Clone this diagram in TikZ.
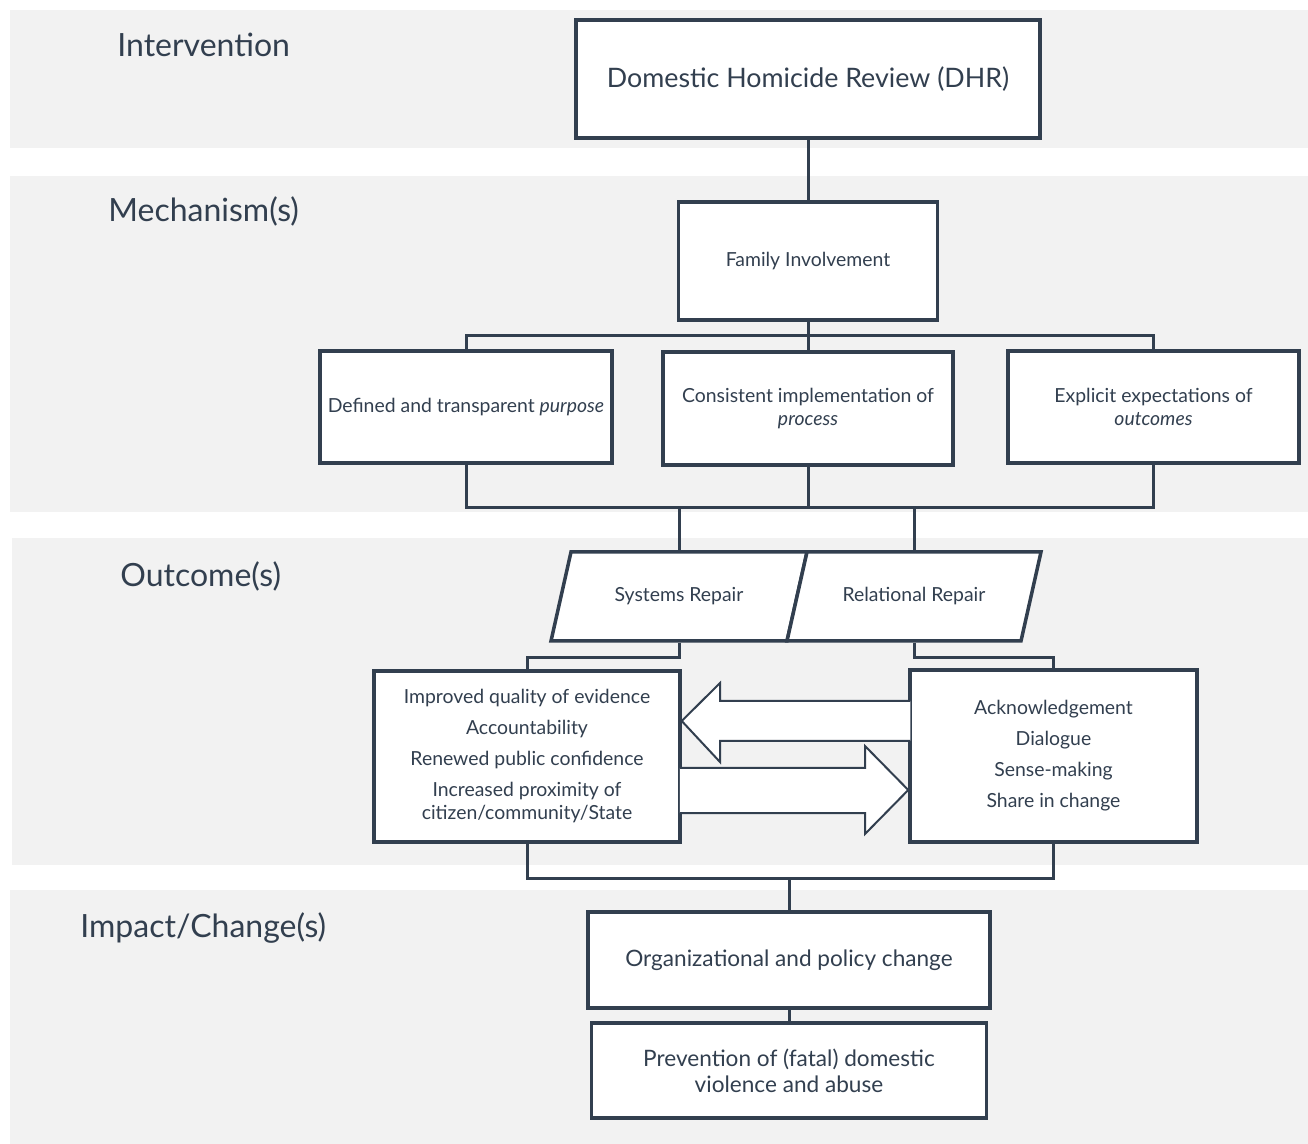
\documentclass[tikz,border=0pt]{standalone}
\usepackage{fontspec}
\setmainfont{Lato}
\definecolor{slate}{HTML}{323F4F}
\definecolor{bandgray}{HTML}{F2F2F2}

\begin{document}
\begin{tikzpicture}[x=0.5pt,y=-0.5pt,
box/.style={draw=slate,line width=1.75pt,fill=white,text=slate,align=center,inner sep=2pt},
small/.style={font=\fontsize{9.7}{11.5}\selectfont},
big/.style={font=\fontsize{11.3}{13}\selectfont},
repair/.style={small,text=slate,minimum width=118pt,minimum height=44.5pt},
link/.style={draw=slate,line width=1.5pt},
blockarrow/.style={draw=slate,line width=1pt,fill=white},
stage/.style={anchor=west,inner sep=0pt,text=slate,font=\fontsize{16}{19}\selectfont}]
\useasboundingbox (0,0) rectangle (1308,1144);
\tikzstyle{band}=[fill=bandgray]
\fill[band] (10,10) rectangle (1308,148);
\fill[band] (10,176) rectangle (1308,512);
\fill[band] (12,538) rectangle (1308,865);
\fill[band] (10,890) rectangle (1308,1144);

\node[stage] (intervention) at (117,45) {Intervention};
\node[stage] (mechanism) at (108,211) {Mechanism(s)};
\node[stage] (outcome) at (120,576) {Outcome(s)};
\node[stage] (impact) at (80,928) {Impact/Change(s)};

\node[box,minimum width=232pt,minimum height=59pt,font=\fontsize{13.4}{16}\selectfont] (dhr) at (808,79) {Domestic Homicide Review (DHR)};
\node[box,small,minimum width=129.5pt,minimum height=59pt] (family) at (808,261) {Family Involvement};
\node[box,small,minimum width=146pt,minimum height=56pt] (purpose) at (466,407) {Defined and transparent \emph{purpose}};
\node[box,small,minimum width=145pt,minimum height=56.5pt] (process) at (808,408.5) {Consistent implementation of\\\emph{process}};
\node[box,small,minimum width=145.5pt,minimum height=56pt] (outcomes) at (1153.5,407) {Explicit expectations of\\\emph{outcomes}};

\draw[box] (571,552) -- (807,552) -- (787,641) -- (551,641) -- cycle
  (679,596.5) node[repair] (sysrep) {Systems Repair};
\draw[box] (807,552) -- (1041,552) -- (1021,641) -- (787,641) -- cycle
  (914,596.5) node[repair] (relrep) {Relational Repair};

\node[box,small,minimum width=153pt,minimum height=85.5pt] (sysout) at (527,756.5) {Improved quality of evidence\\[4pt]Accountability\\[4pt]Renewed public confidence\\[4pt]Increased proximity of\\citizen/community/State};
\node[box,small,minimum width=143.5pt,minimum height=86pt] (relout) at (1053.5,756) {Acknowledgement\\[4pt]Dialogue\\[4pt]Sense-making\\[4pt]Share in change};

\node[box,big,minimum width=201pt,minimum height=48pt] (org) at (789,960) {Organizational and policy change};
\node[box,big,minimum width=197.5pt,minimum height=47.5pt] (prev) at (789,1070.5) {Prevention of (fatal) domestic\\violence and abuse};

\coordinate (mbus) at (808,336);
\coordinate (lbus) at (808,508);
\coordinate (obus) at (789,878);

\draw[link] (dhr.south) -- (family.north);
\draw[link] (family.south) -- (process.north);
\draw[link] (purpose.north) |- (mbus) -| (outcomes.north);
\draw[link] (purpose.south) |- (lbus) -| (outcomes.south);
\draw[link] (process.south) -- (lbus);
\draw[link] (sysrep.north |- lbus) -- (sysrep.north);
\draw[link] (relrep.north |- lbus) -- (relrep.north);
\draw[link] (sysrep.south) -- ++(0,15) -| (sysout.north);
\draw[link] (relrep.south) -- ++(0,15) -| (relout.north);
\draw[link] (sysout.south) |- (obus) -| (relout.south);
\draw[link] (obus) -- (org.north);
\draw[link] (org.south) -- (prev.north);

\coordinate (ltail) at ([xshift=1pt]relout.west);
\coordinate (rtail) at ([xshift=-1pt]sysout.east);
\draw[blockarrow] (ltail |- 0,701) -- (720,701) -- (720,683) -- (sysout.east |- 0,721)
  -- (720,762) -- (720,741) -- (ltail |- 0,741);
\draw[blockarrow] (rtail |- 0,768) -- (865,768) -- (865,746) -- (relout.west |- 0,790)
  -- (865,834) -- (865,813) -- (rtail |- 0,813);
\end{tikzpicture}
\end{document}
